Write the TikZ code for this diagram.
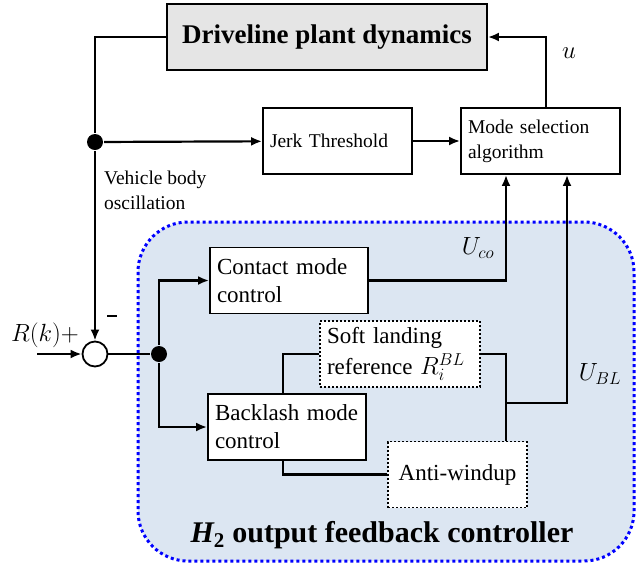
\documentclass[tikz,border=0pt]{standalone}
\usepackage{fontspec}
\setmainfont{Liberation Serif}
\usetikzlibrary{arrows.meta}
\definecolor{ctrlfill}{HTML}{DCE6F2}

\begin{document}
\begin{tikzpicture}[x=1pt,y=-1pt,>={Latex[length=11pt,width=9pt]},line width=2.2pt,
        blk/.style={draw,fill=white,line width=1.8pt,minimum height=66,inner xsep=7pt,align=left},
        dotblk/.style={blk,dash pattern=on 2pt off 2pt},
        small/.style={font=\fontsize{19.5}{25}\selectfont},
        big/.style={font=\fontsize{23}{28}\selectfont},
        lbl/.style={font=\fontsize{26}{30}\selectfont,inner sep=0pt},
        junction/.style={circle,fill=black,inner sep=0pt,minimum size=16}]
                \useasboundingbox (0,0) rectangle (644,566);
                \draw[blue,fill=ctrlfill,line width=3pt,dash pattern=on 3pt off 3pt,rounded corners=50] (138,222) rectangle (634,561);
                \node[blk,fill=gray!20,minimum width=320,font=\fontsize{27}{30}\selectfont\bfseries] (plant) at (327,37) {Driveline plant dynamics};
                \node[blk,small,text width=135] (jerk) at (337.5,141) {Jerk Threshold};
                \node[blk,small,text width=145] (mode) at (540.5,141) {Mode selection\\algorithm};
                \node[blk,big,text width=144] (contact) at (289,280.5) {Contact mode\\control};
                \node[dotblk,big,text width=146,inner ysep=0pt] (soft) at (400,354) {Soft landing\\[3pt]reference $R_i^{BL}$};
                \node[blk,big,text width=144] (backlash) at (287,427) {Backlash mode\\control};
                \node[dotblk,big,minimum width=139,align=center] (anti) at (457.5,474.5) {Anti-windup};
                \node[draw,fill=white,circle,line width=1.8pt,minimum size=25,inner sep=0pt] (sum) at (95,354) {};
                \node[junction] (fb) at (95,142) {};
                \node[junction] (split) at (159,354) {};
                \node[small,align=left,anchor=north west,inner sep=0pt] (vbo) at (103,170) {Vehicle body\\oscillation};
                \node[lbl] (rk) at (45,335) {$R(k)+$};
                \node[lbl] (neg) at (112,316) {\rule{10pt}{2.5pt}};
                \node[lbl] (u) at (569,53) {$u$};
                \node[lbl] (uco) at (478,248) {$U_{co}$};
                \node[lbl] (ubl) at (600,374) {$U_{BL}$};
                \node[font=\fontsize{30}{34}\selectfont\bfseries] (title) at (382,535) {{\itshape H}\textsubscript{2} output feedback controller};
                \coordinate (rin) at (37,354);
                \coordinate (ublj) at (506,403);
                \draw (plant) -- (plant -| fb) -- (fb);
                \draw[->] (fb) -- (sum);
                \draw[->] (fb) -- (jerk);
                \draw[->] (jerk) -- (mode);
                \draw[->] ([xshift=5.5]mode.north) |- (plant);
                \draw[->] (rin) -- (sum);
                \draw (sum) -- (split);
                \draw[->] (split) |- (contact);
                \draw[->] (split) |- (backlash);
                \draw[->] (contact) -| ([xshift=-34.5]mode.south);
                \draw (soft) -| ([xshift=-4]backlash.north);
                \draw (soft) -| ([xshift=48.5]anti.north);
                \draw[->] (ublj) -| ([xshift=26.5]mode.south);
                \draw ([xshift=-4]backlash.south) |- (anti);
            \end{tikzpicture}
\end{document}
